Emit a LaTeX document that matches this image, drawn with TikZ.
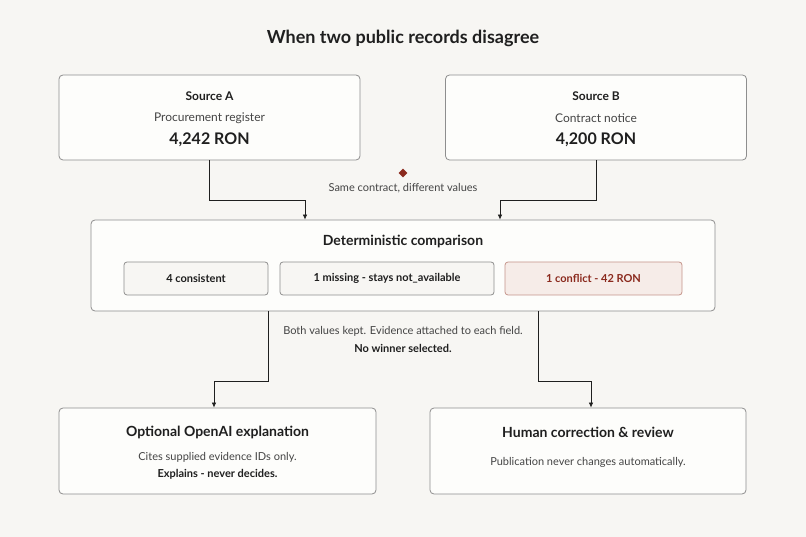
\documentclass[tikz,border=0pt]{standalone}
\usepackage{fontspec}
\setmainfont{Lato}
\usetikzlibrary{arrows.meta,positioning,shapes.geometric}
\definecolor{paper}{HTML}{F7F6F3}
\definecolor{card}{HTML}{FDFDFB}
\definecolor{edge}{HTML}{8E8E8E}
\definecolor{ink}{HTML}{1F1F1F}
\definecolor{soft}{HTML}{444444}
\definecolor{rust}{HTML}{8B2A1E}
\definecolor{rustfill}{HTML}{F6ECE8}
\definecolor{rustedge}{HTML}{C4948A}
\newcommand{\fs}[1]{\fontsize{#1}{#1}\selectfont}
\begin{document}
\begin{tikzpicture}[x=1pt,y=-1pt,
  box/.style = {draw=edge, fill=card, rounded corners=4pt, line width=0.8pt, inner sep=0pt},
  chip/.style = {draw=edge, fill=paper, rounded corners=3pt, line width=0.8pt, inner sep=0pt,
    minimum height=33pt, text=ink, font=\fs{11}\bfseries},
  head/.style = {text=ink, font=\fs{14}\bfseries, inner sep=0pt},
  sub/.style = {text=soft, font=\fs{12}, inner sep=0pt},
  arr/.style = {-{Latex[length=5pt,width=4.5pt]}, draw=ink, line width=0.7pt}]
% canvas
\fill[paper] (0,0) rectangle (806,537);
\node[text=ink, font=\fs{18}\bfseries, inner sep=0pt] (title) at (403,38) {When two public records disagree};

% sources
\node[box, minimum width=301pt, minimum height=85pt] (srcA) at (209.5,117.5) {};
\node[box, minimum width=301pt, minimum height=85pt] (srcB) at (596,117.5) {};
\node[head, font=\fs{12}\bfseries] (srcAname) at (209.5,96) {Source A};
\node[sub] (srcAkind) at (209.5,118) {Procurement register};
\node[head, font=\fs{16}\bfseries] (srcAval) at (209.5,140) {4,242 RON};
\node[head, font=\fs{12}\bfseries] (srcBname) at (596,96) {Source B};
\node[sub] (srcBkind) at (596,118) {Contract notice};
\node[head, font=\fs{16}\bfseries] (srcBval) at (596,140) {4,200 RON};

\node[diamond, fill=rust, inner sep=0pt, minimum size=9pt] (mark) at (403,173) {};
\node[sub, font=\fs{11}] (same) at (403,188) {Same contract, different values};

% comparison
\node[box, minimum width=624pt, minimum height=91pt] (cmp) at (403,265.5) {};
\node[head] (cmphead) at (403,241) {Deterministic comparison};
\node[chip, minimum width=144pt] (ok) at (196,278.5) {4 consistent};
\node[chip, minimum width=214pt] (miss) at (387,278.5) {1 missing - stays not\_available};
\node[chip, minimum width=177pt, fill=rustfill, draw=rustedge, text=rust] (clash) at (593.5,278.5) {1 conflict - 42 RON};

\node[sub, font=\fs{11}] (kept) at (403,331) {Both values kept. Evidence attached to each field.};
\node[head, font=\fs{11}\bfseries] (nowin) at (403,348) {No winner selected.};

% outcomes
\node[box, minimum width=317pt, minimum height=86pt] (llm) at (217.5,451) {};
\node[box, minimum width=316pt, minimum height=86pt] (human) at (588,451) {};
\node[head] (llmhead) at (217.5,432) {Optional OpenAI explanation};
\node[sub, font=\fs{11}] (llmsub) at (217.5,457) {Cites supplied evidence IDs only.};
\node[head, font=\fs{11}\bfseries] (llmnote) at (217.5,474) {Explains - never decides.};
\node[head] (humanhead) at (588,432) {Human correction \& review};
\node[sub, font=\fs{11}] (humansub) at (588,462) {Publication never changes automatically.};

% connectors
\draw[arr] (srcA.south) -- ++(0,40) -| ([xshift=-98pt]cmp.north);
\draw[arr] (srcB.south) -- ++(0,40) -| ([xshift=97pt]cmp.north);
\draw[arr] ([xshift=-135pt]cmp.south) -- ++(0,70) -| ([xshift=-3.5pt]llm.north);
\draw[arr] ([xshift=135pt]cmp.south) -- ++(0,70) -| ([xshift=3pt]human.north);
\end{tikzpicture}
\end{document}
